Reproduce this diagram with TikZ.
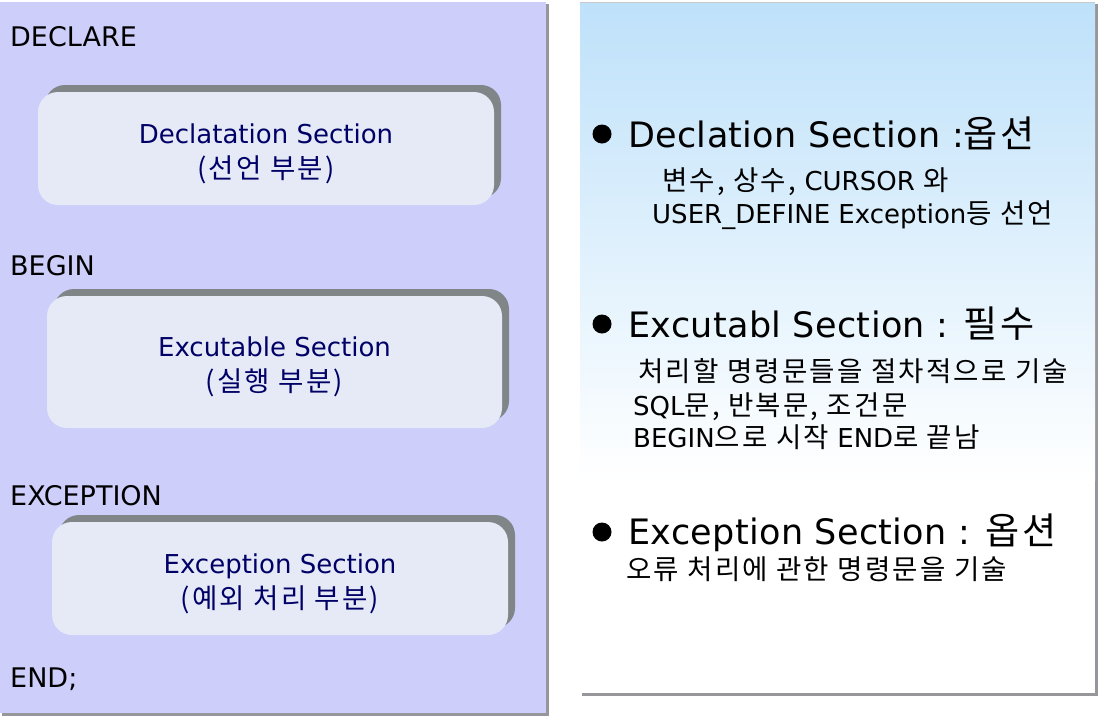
\documentclass[tikz,border=0pt]{standalone}
\usepackage{fontspec}
\setmainfont{DejaVu Sans}
\newfontfamily\kor[Scale=1.06,LetterSpace=8]{Noto Sans CJK KR}
\usetikzlibrary{shadows}
\definecolor{lav}{RGB}{205,206,250}
\definecolor{boxfill}{RGB}{229,234,246}
\definecolor{shadowgray}{RGB}{128,134,136}
\definecolor{navy}{RGB}{0,0,102}
\definecolor{skyblue}{RGB}{190,225,250}
\definecolor{edgegray}{RGB}{150,150,155}
\newcommand{\K}[1]{{\kor #1}}
\begin{document}
\begin{tikzpicture}[x=1pt,y=-1pt,
  kw/.style={anchor=base west,inner sep=0pt,font=\fontsize{27}{30}\selectfont,text=black},
  secbox/.style={draw=none,fill=boxfill,rounded corners=20pt,
    general shadow={fill=shadowgray,shadow xshift=7pt,shadow yshift=7pt}},
  boxtext/.style={align=center,text=navy,inner sep=0pt,font=\fontsize{26}{35}\selectfont},
  title/.style={anchor=base west,inner sep=0pt,font=\fontsize{35}{40}\selectfont\addfontfeatures{LetterSpace=1},text=black},
  sub/.style={anchor=base west,inner sep=0pt,font=\fontsize{26}{30}\selectfont,text=black},
  dot/.style={circle,fill=black,inner sep=0pt,minimum size=19pt}]
\useasboundingbox (0,0) rectangle (1099,718);
\fill[white] (0,0) rectangle (1099,718);
% left panel
\fill[edgegray] (2,4) rectangle (549,716);
\fill[lav] (0,2) rectangle (546,713);
% right panel
\fill[edgegray] (582,4) rectangle (1098,696);
\shade[top color=skyblue,bottom color=white] (580,2) rectangle (1095,480);
\fill[white] (580,480) rectangle (1095,693);
\draw[edgegray!50,line width=0.8pt] (580,2) -- (1095,2);

% keywords
\node[kw] (declare) at (10,46) {DECLARE};
\node[kw] (begin) at (10,275) {BEGIN};
\node[kw] (exception) at (10,505) {EXCEPTION};
\node[kw] (end) at (10,687) {END;};

% section boxes
\node[secbox,minimum width=456pt,minimum height=113pt] (decl) at (266,148.5) {};
\node[boxtext] (decltext) at ([yshift=-5pt]decl.center) {Declatation Section\\\K{(선언 부분)}};
\node[secbox,minimum width=455pt,minimum height=132pt] (exec) at (274.5,362) {};
\node[boxtext] (exectext) at ([yshift=-5pt]exec.center) {Excutable Section\\\K{(실행 부분)}};
\node[secbox,minimum width=456pt,minimum height=113pt] (exc) at (280,578.5) {};
\node[boxtext] (exctext) at ([yshift=-5pt]exc.center) {Exception Section\\\K{(예외 처리 부분)}};

% right side
\node[dot] (b1) at (602,134) {};
\node[title] (t1) at (628,147) {Declation Section :\K{옵션}};
\node[sub] (s11) at (662,190) {\K{변수, 상수, }CURSOR \K{와}};
\node[sub] (s12) at (652,223) {USER\_DEFINE Exception\K{등 선언}};

\node[dot] (b2) at (602,324) {};
\node[title] (t2) at (628,337) {Excutabl Section : \K{필수}};
\node[sub] (s21) at (638,381) {\K{처리할 명령문들을 절차적으로 기술}};
\node[sub] (s22) at (633,415) {SQL\K{문, 반복문, 조건문}};
\node[sub] (s23) at (633,447) {BEGIN\K{으로 시작 }END\K{로 끝남}};

\node[dot] (b3) at (602,532) {};
\node[title] (t3) at (628,544) {Exception Section : \K{옵션}};
\node[sub] (s31) at (626,579) {\K{오류 처리에 관한 명령문을 기술}};
\end{tikzpicture}
\end{document}
